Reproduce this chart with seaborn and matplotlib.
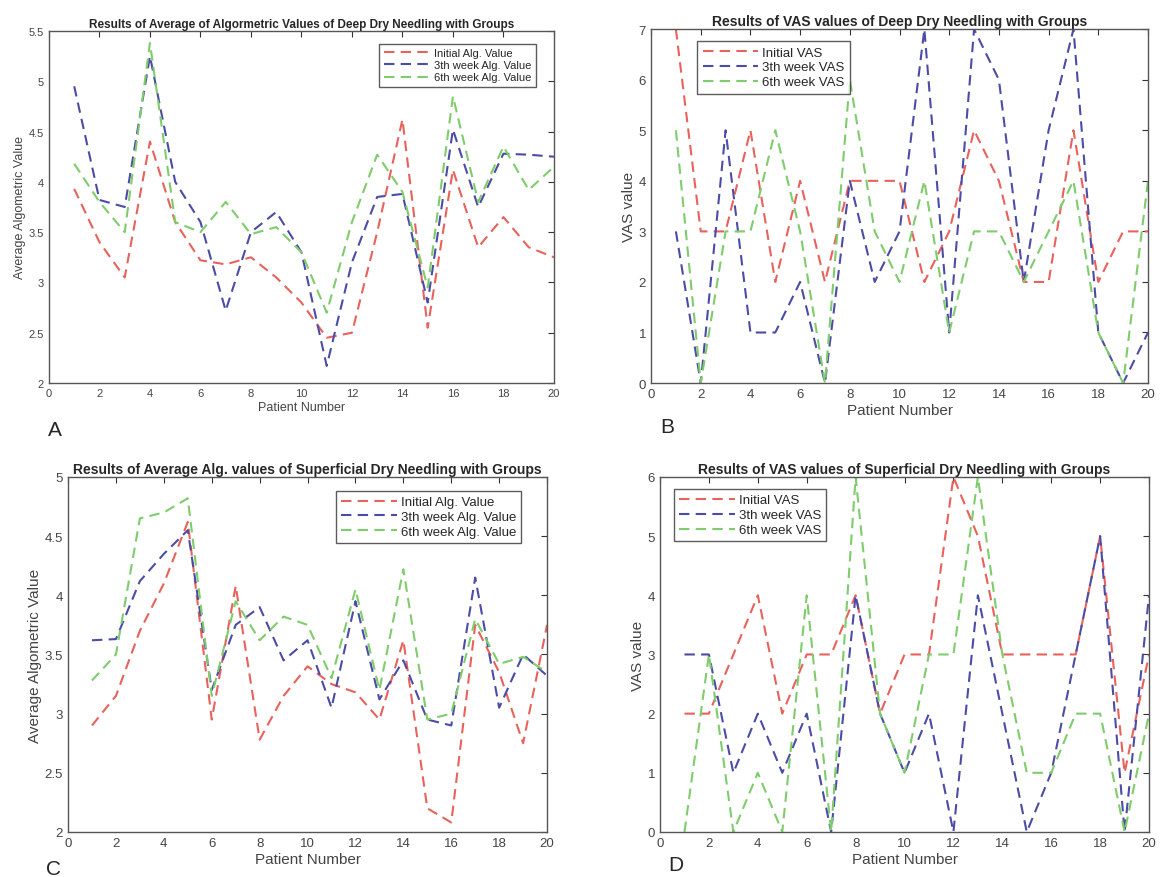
import numpy as np
import pandas as pd
import matplotlib
matplotlib.use("Agg")
import matplotlib.pyplot as plt
import seaborn as sns

sns.set_style("white")
plt.rcParams['font.family'] = ['Liberation Sans', 'DejaVu Sans']

# patient numbers 1..20
patients = list(range(1, 21))

# panel A - deep dry needling, algometric values
deep_alg_initial = [3.93, 3.4, 3.05, 4.4, 3.6, 3.22, 3.18, 3.25, 3.05, 2.8,
                    2.45, 2.5, 3.5, 4.62, 2.55, 4.12, 3.35, 3.65, 3.35, 3.25]
deep_alg_week3 = [4.95, 3.82, 3.75, 5.25, 4.0, 3.6, 2.72, 3.5, 3.7, 3.3,
                  2.17, 3.2, 3.85, 3.88, 2.8, 4.52, 3.75, 4.28, 4.27, 4.25]
deep_alg_week6 = [4.18, 3.8, 3.5, 5.38, 3.6, 3.5, 3.8, 3.48, 3.55, 3.3,
                  2.7, 3.6, 4.27, 3.9, 2.95, 4.85, 3.8, 4.35, 3.92, 4.15]

# panel B - deep dry needling, VAS
deep_vas_initial = [7, 3, 3, 5, 2, 4, 2, 4, 4, 4, 2, 3, 5, 4, 2, 2, 5, 2, 3, 3]
deep_vas_week3 = [3, 0, 5, 1, 1, 2, 0, 4, 2, 3, 7, 1, 7, 6, 2, 5, 7, 1, 0, 1]
deep_vas_week6 = [5, 0, 3, 3, 5, 3, 0, 6, 3, 2, 4, 1, 3, 3, 2, 3, 4, 1, 0, 4]

# panel C - superficial dry needling, algometric values
sup_alg_initial = [2.9, 3.15, 3.7, 4.1, 4.62, 2.95, 4.08, 2.78, 3.15, 3.4,
                   3.25, 3.18, 2.95, 3.62, 2.2, 2.08, 3.75, 3.35, 2.75, 3.75]
sup_alg_week3 = [3.62, 3.63, 4.12, 4.35, 4.55, 3.2, 3.75, 3.9, 3.45, 3.62,
                 3.05, 3.95, 3.12, 3.45, 2.95, 2.9, 4.15, 3.05, 3.5, 3.32]
sup_alg_week6 = [3.28, 3.5, 4.65, 4.7, 4.82, 3.15, 3.95, 3.62, 3.82, 3.75,
                 3.3, 4.05, 3.2, 4.22, 2.95, 3.0, 3.8, 3.42, 3.48, 3.35]

# panel D - superficial dry needling, VAS
sup_vas_initial = [2, 2, 3, 4, 2, 3, 3, 4, 2, 3, 3, 6, 5, 3, 3, 3, 3, 5, 1, 3]
sup_vas_week3 = [3, 3, 1, 2, 1, 2, 0, 4, 2, 1, 2, 0, 4, 2, 0, 1, 3, 5, 0, 4]
sup_vas_week6 = [0, 3, 0, 1, 0, 4, 0, 6, 2, 1, 3, 3, 6, 3, 1, 1, 2, 2, 0, 2]

alg_labels = ["Initial Alg. Value", "3th week Alg. Value", "6th week Alg. Value"]
vas_labels = ["Initial VAS", "3th week VAS", "6th week VAS"]
colors = ["#e8625c", "#4c4ca6", "#7fcc6c"]

fig = plt.figure(figsize=(11.63, 8.78), dpi=100)
fig.patch.set_facecolor("white")

panels = [
    dict(pos=[0.0421, 0.5626, 0.4342, 0.401], series=[deep_alg_initial, deep_alg_week3, deep_alg_week6],
         labels=alg_labels, ylim=(2, 5.5), yticks=np.arange(2, 5.51, 0.5), ylabel="Average Algometric Value",
         title="Results of Average of Algormetric Values of Deep Dry Needling with Groups",
         legend=dict(loc="upper right", bbox_to_anchor=(0.975, 0.98)), letter="A", letter_xy=(48, 430),
         tick_fs=8, lab_fs=9, leg_fs=8, title_fs=8.5),
    dict(pos=[0.5598, 0.5626, 0.4273, 0.403], series=[deep_vas_initial, deep_vas_week3, deep_vas_week6],
         labels=vas_labels, ylim=(0, 7), yticks=range(0, 8), ylabel="VAS value",
         title="Results of VAS values of Deep Dry Needling with Groups",
         legend=dict(loc="upper left", bbox_to_anchor=(0.08, 0.985)), letter="B", letter_xy=(660, 428),
         tick_fs=9.5, lab_fs=11, leg_fs=9.5, title_fs=10),
    dict(pos=[0.0585, 0.0513, 0.4119, 0.4043], series=[sup_alg_initial, sup_alg_week3, sup_alg_week6],
         labels=alg_labels, ylim=(2, 5), yticks=np.arange(2, 5.01, 0.5), ylabel="Average Algometric Value",
         title="Results of Average Alg. values of Superficial Dry Needling with Groups",
         legend=dict(loc="upper right", bbox_to_anchor=(0.96, 0.98)), letter="C", letter_xy=(46, 870),
         tick_fs=9.5, lab_fs=11, leg_fs=9.5, title_fs=10),
    dict(pos=[0.5675, 0.0513, 0.4205, 0.4043], series=[sup_vas_initial, sup_vas_week3, sup_vas_week6],
         labels=vas_labels, ylim=(0, 6), yticks=range(0, 7), ylabel="VAS value",
         title="Results of VAS values of Superficial Dry Needling with Groups",
         legend=dict(loc="upper left", bbox_to_anchor=(0.015, 0.985)), letter="D", letter_xy=(668, 866),
         tick_fs=9.5, lab_fs=11, leg_fs=9.5, title_fs=10),
]

for p in panels:
    ax = fig.add_axes(p["pos"])
    for vals, lab, c in zip(p["series"], p["labels"], colors):
        sns.lineplot(x=patients, y=vals, ax=ax, color=c, linewidth=1.5, label=lab,
                     dashes=False).lines[-1].set_dashes((5, 3))
    ax.set_xlim(0, 20)
    ax.set_ylim(*p["ylim"])
    ax.set_xticks(range(0, 21, 2))
    ax.set_yticks(p["yticks"])
    ax.set_yticklabels([f"{v:g}" for v in p["yticks"]])
    ax.tick_params(direction="in", top=True, right=True, length=4, labelsize=p["tick_fs"],
                   colors="#333333", labelcolor="#444444")
    for s in ax.spines.values():
        s.set_color("#555555")
        s.set_linewidth(1.0)
    ax.set_xlabel("Patient Number", fontsize=p["lab_fs"], color="#444444", labelpad=2)
    ax.set_ylabel(p["ylabel"], fontsize=p["lab_fs"], color="#444444", labelpad=2)
    ax.set_title(p["title"], fontsize=p["title_fs"], fontweight="bold", pad=3)
    leg = ax.legend(fontsize=p["leg_fs"], frameon=True, fancybox=False, handlelength=4.2,
                    borderpad=0.4, labelspacing=0.2, handletextpad=0.3, **p["legend"])
    leg.get_frame().set_edgecolor("#333333")
    leg.get_frame().set_linewidth(1.0)
    for h in leg.get_lines():
        h.set_dashes((5, 3))
    lx, ly = p["letter_xy"]
    fig.text(lx / 1163, 1 - ly / 878, p["letter"], fontsize=15, va="center", ha="left")

fig.savefig("out.png", dpi=100, facecolor="white")
